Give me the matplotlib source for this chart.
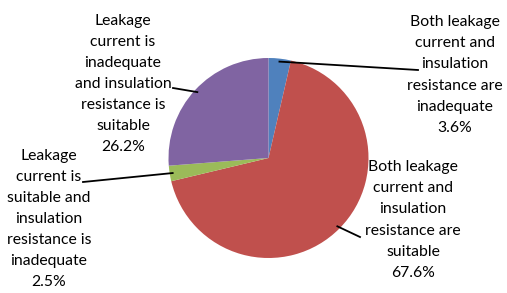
import numpy as np
import matplotlib
matplotlib.use('Agg')
import matplotlib.pyplot as plt

labels = ['Both leakage\ncurrent and\ninsulation\nresistance are\ninadequate',
          'Both leakage\ncurrent and\ninsulation\nresistance are\nsuitable',
          'Leakage\ncurrent is\nsuitable and\ninsulation\nresistance is\ninadequate',
          'Leakage\ncurrent is\ninadequate\nand insulation\nresistance is\nsuitable']
values = [3.6, 67.6, 2.5, 26.2]
colors = ['#4F81BD', '#C0504D', '#9BBB59', '#8064A2']

# label block centres and where the leader line meets the text (pixels, y down)
label_pos = [(455, 75), (413, 220), (49, 219), (123, 84)]
line_end = [(418, 70), (360, 237), (83, 182), (173, 88)]

W, H = 507, 293
fig = plt.figure(figsize=(W / 100, H / 100), dpi=100)
ax = fig.add_axes([0, 0, 1, 1])

cx, cy, r = 268.5, H - 158, 100
ax.pie(values, colors=colors, startangle=90, counterclock=False,
       center=(cx, cy), radius=r, frame=True,
       wedgeprops=dict(linewidth=0))
ax.set_xlim(0, W)
ax.set_ylim(0, H)
ax.axis('off')

cum = np.cumsum([0] + values)
total = sum(values)
for i, v in enumerate(values):
    mid = np.deg2rad(90 - (cum[i] + v / 2) / total * 360)
    px = cx + 0.97 * r * np.cos(mid)
    py = cy + 0.97 * r * np.sin(mid)
    ex, ey = line_end[i]
    ax.plot([px, ex], [py, H - ey], color='black', lw=1.3)
    tx, ty = label_pos[i]
    ax.text(tx, H - ty, labels[i] + '\n' + '%.1f%%' % v, ha='center', va='center',
            fontsize=11.3, linespacing=1.65, family=['Lato', 'DejaVu Sans'],
            color='black')

fig.savefig('out.png', dpi=100)
